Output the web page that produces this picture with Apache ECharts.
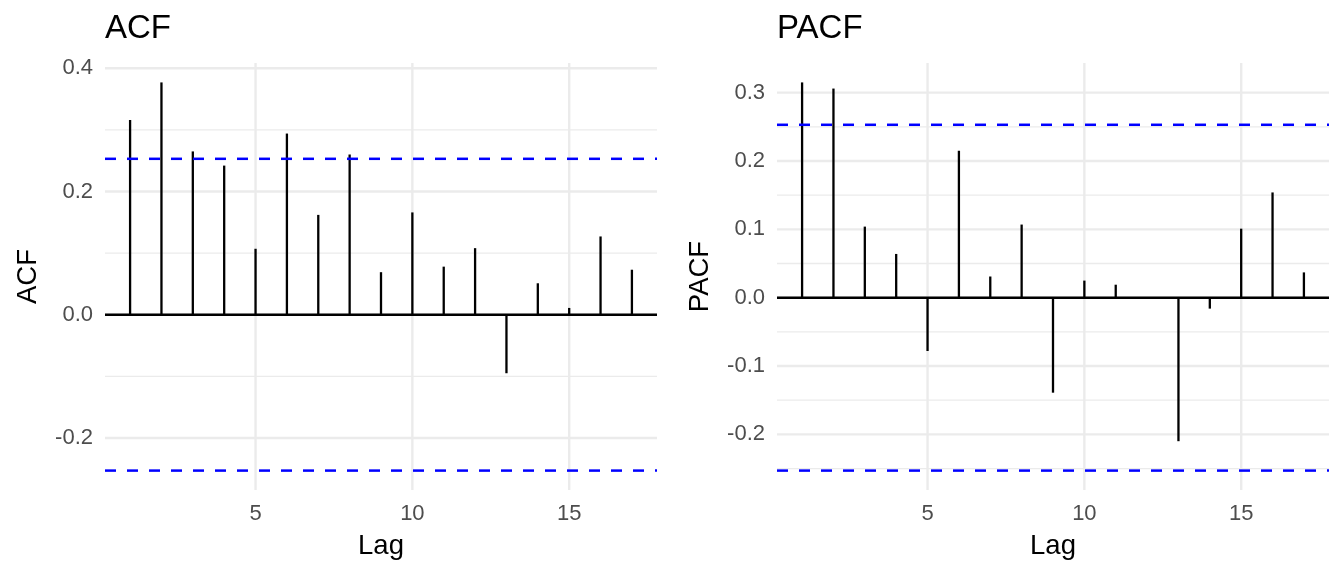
<!DOCTYPE html>
<html>
<head>
<meta charset="utf-8">
<script src="https://cdn.jsdelivr.net/npm/echarts@6/dist/echarts.min.js"></script>
<style>
  html, body { margin: 0; padding: 0; background: #fff; }
  #main { width: 1344px; height: 576px; }
</style>
</head>
<body>
<div id="main"></div>
<script>
// lags and correlation values
const lags = [1, 2, 3, 4, 5, 6, 7, 8, 9, 10, 11, 12, 13, 14, 15, 16, 17];
const acfValues = [0.316, 0.377, 0.265, 0.242, 0.107, 0.294, 0.162, 0.260, 0.069,
                   0.166, 0.078, 0.108, -0.095, 0.051, 0.011, 0.127, 0.073];
const pacfValues = [0.315, 0.306, 0.104, 0.064, -0.078, 0.215, 0.031, 0.107, -0.139,
                    0.025, 0.019, 0.000, -0.210, -0.016, 0.101, 0.154, 0.037];
const ciBound = 0.253;

// tick labels / grid breaks
const xBreaks = [5, 10, 15];
const acfYBreaks = [-0.2, 0.0, 0.2, 0.4];
const acfYMinor = [-0.1, 0.1, 0.3];
const pacfYBreaks = [-0.2, -0.1, 0.0, 0.1, 0.2, 0.3];
const pacfYMinor = [-0.25, -0.15, -0.05, 0.05, 0.15, 0.25];

const FONT = 'Liberation Sans, Arial, sans-serif';
const GRID_COLOR = '#EBEBEB';

var myChart = echarts.init(document.getElementById('main'));

// ggplot style 5% expansion
function expand(lo, hi) {
    const pad = (hi - lo) * 0.05;
    return [lo - pad, hi + pad];
}
const xRange = expand(Math.min(...lags), Math.max(...lags));

// horizontal lines across the whole panel
function hLines(idx, vals, style, z) {
    return {
        type: 'custom', xAxisIndex: idx, yAxisIndex: idx, z: z, silent: true,
        data: vals.map(v => [v]),
        renderItem: function (params, api) {
            const cs = params.coordSys;
            const y = api.coord([xRange[0], api.value(0)])[1];
            return { type: 'line', shape: { x1: cs.x, y1: y, x2: cs.x + cs.width, y2: y },
                     style: style };
        }
    };
}
function vLines(idx, vals, style) {
    return {
        type: 'custom', xAxisIndex: idx, yAxisIndex: idx, z: 1, silent: true,
        data: vals.map(v => [v]),
        renderItem: function (params, api) {
            const cs = params.coordSys;
            const x = api.coord([api.value(0), 0])[0];
            return { type: 'line', shape: { x1: x, y1: cs.y, x2: x, y2: cs.y + cs.height },
                     style: style };
        }
    };
}
function stems(idx, vals) {
    return {
        type: 'custom', xAxisIndex: idx, yAxisIndex: idx, z: 4,
        data: lags.map((l, i) => [l, vals[i]]),
        renderItem: function (params, api) {
            const p0 = api.coord([api.value(0), 0]);
            const p1 = api.coord([api.value(0), api.value(1)]);
            return { type: 'line', shape: { x1: p0[0], y1: p0[1], x2: p1[0], y2: p1[1] },
                     style: { stroke: '#000', lineWidth: 2.3 } };
        }
    };
}

const majorStyle = { stroke: GRID_COLOR, lineWidth: 2.4 };
const minorStyle = { stroke: GRID_COLOR, lineWidth: 1.3 };
const zeroStyle = { stroke: '#000', lineWidth: 2.6 };
const ciStyle = { stroke: '#0000FF', lineWidth: 2.5, lineDash: [11, 11] };

function panelSeries(idx, values, yBreaks, yMinor) {
    return [
        hLines(idx, yMinor, minorStyle, 1),
        hLines(idx, yBreaks, majorStyle, 1),
        vLines(idx, xBreaks, majorStyle),
        hLines(idx, [0], zeroStyle, 3),
        stems(idx, values),
        hLines(idx, [ciBound, -ciBound], ciStyle, 5)
    ];
}

function xAxis(idx) {
    return {
        type: 'value', gridIndex: idx, min: xRange[0], max: xRange[1],
        axisLine: { show: false }, axisTick: { show: false }, splitLine: { show: false },
        axisLabel: { customValues: xBreaks, color: '#4D4D4D', fontSize: 22, fontFamily: FONT, margin: 13 },
        name: 'Lag', nameLocation: 'middle', nameGap: 42,
        nameTextStyle: { color: '#000', fontSize: 27.5, fontFamily: FONT }
    };
}
function yAxis(idx, name, vals, breaks) {
    const r = expand(Math.min(-ciBound, ...vals), Math.max(ciBound, ...vals));
    return {
        type: 'value', gridIndex: idx, min: r[0], max: r[1],
        axisLine: { show: false }, axisTick: { show: false }, splitLine: { show: false },
        axisLabel: { customValues: breaks, color: '#4D4D4D', fontSize: 22, fontFamily: FONT, margin: 12,
                     formatter: v => v.toFixed(1) },
        name: name, nameLocation: 'middle', nameGap: 63,
        nameTextStyle: { color: '#000', fontSize: 27.5, fontFamily: FONT }
    };
}

var option = {
    animation: false,
    title: [
        { text: 'ACF', left: 105, top: 12, padding: 0,
          textStyle: { fontSize: 33, fontWeight: 'normal', color: '#000', fontFamily: FONT } },
        { text: 'PACF', left: 777, top: 12, padding: 0,
          textStyle: { fontSize: 33, fontWeight: 'normal', color: '#000', fontFamily: FONT } }
    ],
    grid: [
        { left: 105, top: 63, width: 552, height: 427 },
        { left: 777, top: 63, width: 552, height: 427 }
    ],
    xAxis: [xAxis(0), xAxis(1)],
    yAxis: [yAxis(0, 'ACF', acfValues, acfYBreaks), yAxis(1, 'PACF', pacfValues, pacfYBreaks)],
    series: panelSeries(0, acfValues, acfYBreaks, acfYMinor)
        .concat(panelSeries(1, pacfValues, pacfYBreaks, pacfYMinor))
};

myChart.setOption(option);
</script>
</body>
</html>
